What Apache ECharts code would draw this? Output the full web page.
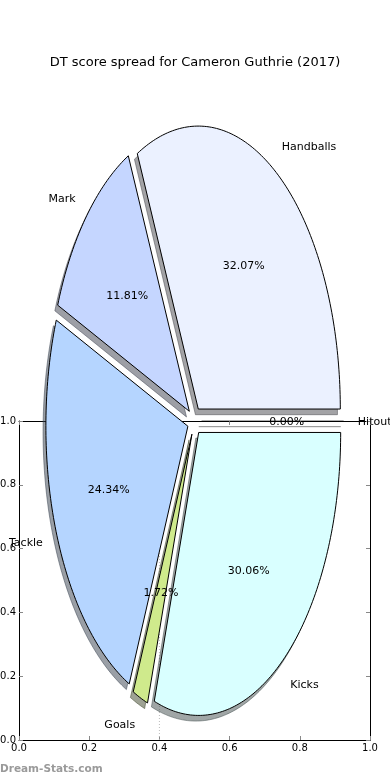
<!DOCTYPE html>
<html>
<head>
<meta charset="utf-8">
<script src="https://cdn.jsdelivr.net/npm/echarts@6/dist/echarts.min.js"></script>
<style>
html,body{margin:0;padding:0;background:#fff;}
#chart{width:390px;height:780px;}
</style>
</head>
<body>
<div id="chart"></div>
<script>
// ---- data ----
const categories = ['Handballs', 'Mark', 'Tackle', 'Goals', 'Kicks', 'Hitout'];
const values = [32.07, 11.81, 24.34, 1.72, 30.06, 0.00];
const axisTicks = [0, 0.2, 0.4, 0.6, 0.8, 1.0];
const refLineX = [0.4];

// ---- styles / layout ----
const wedgeColors = ['#EBF1FF', '#C5D6FF', '#B5D5FF', '#CFEA8C', '#D9FFFF', '#FFFFFF'];
const pieCenter = [0.5, 1.0];
const pieRadius = [0.4046, 0.887];
const explode = 0.05;
const shadowOff = 0.02;
const FONT = '"DejaVu Sans", sans-serif';

const total = values.reduce((a, b) => a + b, 0);
let acc = 0;
const wedgeData = values.map((v, i) => {
  const s = acc / total;
  acc += v;
  return [s, acc / total, v, i];
});

function shade(hex) {
  const r = parseInt(hex.slice(1, 3), 16), g = parseInt(hex.slice(3, 5), 16), b = parseInt(hex.slice(5, 7), 16);
  return 'rgba(' + Math.round(r * 0.3) + ',' + Math.round(g * 0.3) + ',' + Math.round(b * 0.3) + ',0.5)';
}

function renderItem(params, api) {
  const i = params.dataIndex;
  const a0 = api.value(0) * 2 * Math.PI;
  const a1 = api.value(1) * 2 * Math.PI;
  const v = api.value(2);
  const c = api.coord(pieCenter);
  const sz = api.size(pieRadius, pieCenter);
  const rx = sz[0], ry = sz[1];
  const mid = (a0 + a1) / 2;
  const cm = Math.cos(mid), sm = Math.sin(mid);
  const ox = c[0] + explode * rx * cm;
  const oy = c[1] - explode * ry * sm;
  const pts = [[ox, oy]];
  const n = Math.max(2, Math.ceil((a1 - a0) / (Math.PI / 180)));
  for (let k = 0; k <= n; k++) {
    const t = a0 + (a1 - a0) * k / n;
    pts.push([ox + rx * Math.cos(t), oy - ry * Math.sin(t)]);
  }
  const sdx = -shadowOff * rx, sdy = shadowOff * ry;
  const spts = pts.map(p => [p[0] + sdx, p[1] + sdy]);
  const col = wedgeColors[i];
  const lx = c[0] + (explode + 1.1) * rx * cm;
  const ly = c[1] - (explode + 1.1) * ry * sm + 1;
  const px = c[0] + (explode + 0.6) * rx * cm;
  const py = c[1] - (explode + 0.6) * ry * sm + 1;
  const zero = v === 0;
  return {
    type: 'group',
    children: [
      {
        type: 'polygon', z2: 1,
        shape: { points: spts },
        style: { fill: shade(col), stroke: zero ? 'rgba(0,0,0,0.25)' : shade(col), lineWidth: 1 }
      },
      {
        type: 'polygon', z2: 5,
        shape: { points: pts },
        style: { fill: col, stroke: zero ? 'rgba(0,0,0,0.35)' : '#000', lineWidth: 1, lineJoin: 'miter' }
      },
      {
        type: 'text', z2: 10,
        style: {
          text: categories[i], x: lx, y: ly,
          align: lx >= c[0] ? 'left' : 'right', verticalAlign: 'middle',
          fill: '#000', font: '11px ' + FONT
        }
      },
      {
        type: 'text', z2: 10,
        style: {
          text: v.toFixed(2) + '%', x: px, y: py,
          align: 'center', verticalAlign: 'middle',
          fill: '#000', font: '11px ' + FONT
        }
      }
    ]
  };
}

const chart = echarts.init(document.getElementById('chart'), null, { renderer: 'canvas' });

const baseAxis = {
  type: 'value', min: axisTicks[0], max: axisTicks[axisTicks.length - 1], interval: 0.2,
  axisLine: { show: true, onZero: false, lineStyle: { color: '#000', width: 1 } },
  axisTick: { show: true, inside: true, length: 4, lineStyle: { color: '#888', width: 1 } },
  splitLine: { show: false }
};

chart.setOption({
  animation: false,
  backgroundColor: '#fff',
  title: {
    text: 'DT score spread for Cameron Guthrie (2017)',
    left: 'center', top: 51,
    textStyle: { fontSize: 13, fontWeight: 'normal', color: '#000', fontFamily: FONT }
  },
  grid: { left: 19, right: 20, top: 421, bottom: 40, containLabel: false, outerBoundsMode: 'none' },
  xAxis: [
    Object.assign({}, baseAxis, {
      position: 'bottom',
      axisLabel: { show: true, margin: 3, fontSize: 10, color: '#000', fontFamily: FONT, formatter: v => v.toFixed(1), showMinLabel: true, showMaxLabel: true }
    }),
    Object.assign({}, baseAxis, { position: 'top', axisLabel: { show: false } })
  ],
  yAxis: [
    Object.assign({}, baseAxis, {
      position: 'left',
      axisLabel: { show: true, margin: 3, fontSize: 10, color: '#000', fontFamily: FONT, formatter: v => v.toFixed(1), showMinLabel: true, showMaxLabel: true }
    }),
    Object.assign({}, baseAxis, { position: 'right', axisLabel: { show: false } })
  ],
  graphic: [{
    type: 'text', left: 0, top: 764,
    style: { text: 'Dream-Stats.com', fill: '#9a9a9a', font: 'bold 10.5px ' + FONT }
  }],
  series: [
    {
      type: 'line', xAxisIndex: 0, yAxisIndex: 0, z: 1, silent: true,
      showSymbol: false, symbol: 'none',
      data: [[refLineX[0], axisTicks[0]], [refLineX[0], axisTicks[axisTicks.length - 1]]],
      lineStyle: { color: '#bbb', width: 1, type: [1, 2] }
    },
    {
      type: 'custom', xAxisIndex: 0, yAxisIndex: 0, z: 3, clip: false,
      renderItem: renderItem,
      data: wedgeData
    }
  ]
});
</script>
</body>
</html>
